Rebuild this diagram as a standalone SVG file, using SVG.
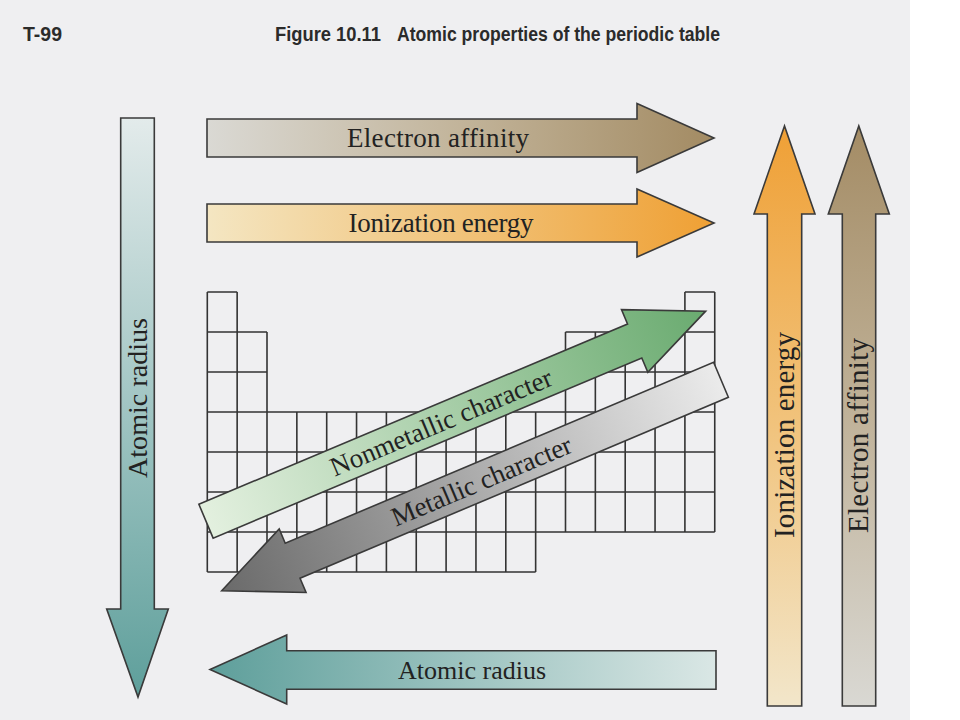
<svg xmlns="http://www.w3.org/2000/svg" width="960" height="720" viewBox="0 0 960 720">
<style>
.arr{stroke:#3a3a3a;stroke-width:1.6;stroke-linejoin:miter}
.lbl{font-family:"Liberation Serif","Times New Roman",serif;fill:#222;text-anchor:middle}
.hdr{font-family:"Liberation Sans",Arial,sans-serif;font-weight:bold;font-size:20px;fill:#2b2b2b}
.grid{fill:none;stroke:#333;stroke-width:1.6}
</style>
<defs>
<linearGradient id="gEAh" x1="0" y1="0" x2="1" y2="0"><stop offset="0" stop-color="#dad9d4"/><stop offset="0.5" stop-color="#c2b49a"/><stop offset="1" stop-color="#a38b63"/></linearGradient>
<linearGradient id="gIEh" x1="0" y1="0" x2="1" y2="0"><stop offset="0" stop-color="#f4e6c2"/><stop offset="0.5" stop-color="#f1c37a"/><stop offset="1" stop-color="#efa034"/></linearGradient>
<linearGradient id="gIEv" x1="0" y1="1" x2="0" y2="0"><stop offset="0" stop-color="#f2e6ca"/><stop offset="0.5" stop-color="#f1c27a"/><stop offset="1" stop-color="#efa036"/></linearGradient>
<linearGradient id="gEAv" x1="0" y1="1" x2="0" y2="0"><stop offset="0" stop-color="#d9d8d3"/><stop offset="0.5" stop-color="#c0b299"/><stop offset="1" stop-color="#a48c65"/></linearGradient>
<linearGradient id="gARv" x1="0" y1="0" x2="0" y2="1"><stop offset="0" stop-color="#e3ebeb"/><stop offset="1" stop-color="#5e9f9b"/></linearGradient>
<linearGradient id="gARh" x1="1" y1="0" x2="0" y2="0"><stop offset="0" stop-color="#dae7e5"/><stop offset="1" stop-color="#5e9f9b"/></linearGradient>
<linearGradient id="gNM" x1="0" y1="0" x2="1" y2="0"><stop offset="0" stop-color="#e3f0df"/><stop offset="1" stop-color="#6aab70"/></linearGradient>
<linearGradient id="gM" x1="0" y1="0" x2="1" y2="0"><stop offset="0" stop-color="#6a6a6a"/><stop offset="1" stop-color="#ebebeb"/></linearGradient>
</defs>
<rect x="0" y="0" width="960" height="720" fill="#ffffff"/>
<rect x="0" y="0" width="910" height="720" fill="#efeff1"/>
<g id="header">
<text class="hdr" x="23" y="41" textLength="39" lengthAdjust="spacingAndGlyphs">T-99</text>
<text class="hdr" x="275" y="41" textLength="106" lengthAdjust="spacingAndGlyphs">Figure 10.11</text>
<text class="hdr" x="397" y="41" textLength="323" lengthAdjust="spacingAndGlyphs">Atomic properties of the periodic table</text>
</g>
<g id="periodic-table">
<path class="grid" d="M207.3,292H237.15M684.9,292H714.75M207.3,332H267M565.5,332H714.75M207.3,372H267M565.5,372H714.75M207.3,412H714.75M207.3,452H714.75M207.3,492H714.75M207.3,532H714.75M207.3,572H535.65
M207.3,292V572M237.15,292V572M267,332V572M296.85,412V572M326.7,412V572M356.55,412V572M386.4,412V572M416.25,412V572M446.1,412V572M475.95,412V572M505.8,412V572M535.65,412V572M565.5,332V532M595.35,332V532M625.2,332V532M655.05,332V532M684.9,292V532M714.75,292V532"/>
</g>
<g id="connectors">
<g id="electron-affinity-h">
<polygon class="arr" fill="url(#gEAh)" points="207,119 637,119 637,103.5 714,138 637,172.5 637,157 207,157"/>
<text class="lbl" x="438" y="147" font-size="27" textLength="182">Electron affinity</text>
</g>
<g id="ionization-energy-h">
<polygon class="arr" fill="url(#gIEh)" points="207,204 637,204 637,189 714,223 637,257 637,242 207,242"/>
<text class="lbl" x="441" y="232" font-size="27" textLength="185">Ionization energy</text>
</g>
<g id="atomic-radius-v">
<polygon class="arr" fill="url(#gARv)" points="120.7,118 154.3,118 154.3,609 168.3,609 138,697 106.7,609 120.7,609"/>
<text class="lbl" transform="translate(147,398) rotate(-90)" font-size="28" textLength="160">Atomic radius</text>
</g>
<g id="atomic-radius-h">
<polygon class="arr" fill="url(#gARh)" points="716,650.7 716,689.3 286.7,689.3 286.7,704 210,669.5 286.7,635 286.7,650.7"/>
<text class="lbl" x="472" y="679" font-size="26" textLength="148">Atomic radius</text>
</g>
<g id="ionization-energy-v">
<polygon class="arr" fill="url(#gIEv)" points="767.3,706 767.3,214 754,214 784.5,126 815,214 801.7,214 801.7,706"/>
<text class="lbl" transform="translate(793.5,435) rotate(-90)" font-size="29" textLength="206">Ionization energy</text>
</g>
<g id="electron-affinity-v">
<polygon class="arr" fill="url(#gEAv)" points="842.3,706 842.3,214 828.3,214 858.8,126 889.3,214 875.7,214 875.7,706"/>
<text class="lbl" transform="translate(868.3,435.5) rotate(-90)" font-size="29" textLength="195">Electron affinity</text>
</g>
<g id="nonmetallic-character" transform="translate(206,521.2) rotate(-22.8)">
<polygon class="arr" fill="url(#gNM)" points="0,-18.4 465,-18.4 465,-34 542,0 465,34 465,18.4 0,18.4"/>
<text class="lbl" x="255" y="9" font-size="27" textLength="238" fill="#1e2e1e">Nonmetallic character</text>
</g>
<g id="metallic-character" transform="translate(221.7,590.7) rotate(-22.9)">
<polygon class="arr" fill="url(#gM)" points="0,0 77,-34.5 77,-19 542,-19 542,19 77,19 77,34.5"/>
<text class="lbl" x="282" y="9" font-size="27" textLength="193">Metallic character</text>
</g>
</g>
</svg>
